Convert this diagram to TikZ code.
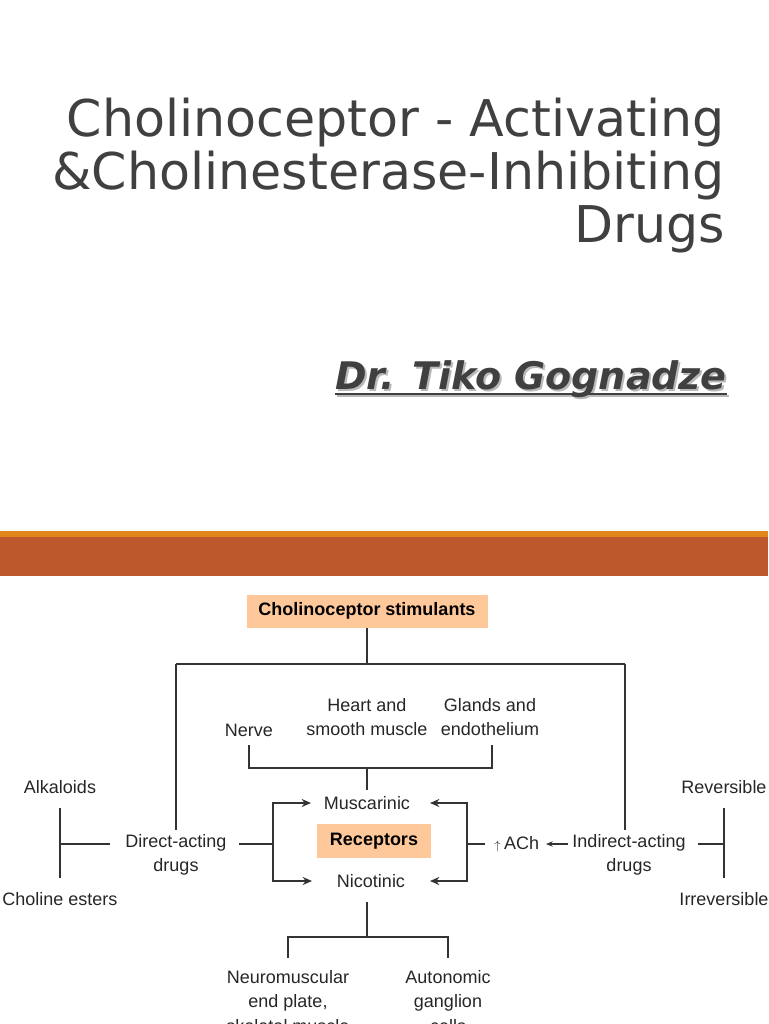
\documentclass[tikz,border=0pt]{standalone}
\usepackage{fontspec}
\setmainfont{DejaVu Sans}
\newfontfamily\arialf{Liberation Sans}
\usetikzlibrary{arrows.meta}
\definecolor{titlegray}{HTML}{404040}
\definecolor{bandline}{HTML}{E0861A}
\definecolor{band}{HTML}{BD582C}
\definecolor{peach}{HTML}{FFC89A}
\tikzset{
 lbl/.style={font=\arialf\fontsize{13.5}{18.5}\selectfont, align=center, inner sep=0pt, text=black!85},
 ln/.style={draw=black!80, line width=1.1pt},
 arr/.style={ln, -{Stealth[length=7pt,width=6pt]}},
 pbox/.style={fill=peach, font=\arialf\bfseries\fontsize{13.5}{16}\selectfont, inner sep=0pt},
 authf/.style={anchor=base east, font=\bfseries\itshape\fontsize{28.5}{32}\selectfont, inner sep=0pt}
}
\begin{document}
\begin{tikzpicture}[x=0.75pt,y=-0.75pt]
\useasboundingbox (0,0) rectangle (768,1024);
\clip (0,0) rectangle (768,1024);
% title
\node[anchor=north east, align=right, text=titlegray, font=\fontsize{38}{39.5}\selectfont, inner sep=0pt] (title) at (725,98)
 {Cholinoceptor - Activating\\ \&Cholinesterase-Inhibiting\\ Drugs};
\node[authf, text=gray!55] (authsh) at (729,391) {Dr. Tiko Gognadze};
\draw[gray!55, line width=1.6pt] ([yshift=-4pt]authsh.base west) -- ([yshift=-4pt]authsh.base east);
\node[authf, text=titlegray] (auth) at (727,389) {Dr. Tiko Gognadze};
\draw[titlegray, line width=1.6pt] ([yshift=-4pt]auth.base west) -- ([yshift=-4pt]auth.base east);
% band
\fill[bandline] (0,531) rectangle (768,537);
\fill[band] (0,537) rectangle (768,576);
% diagram
\node[pbox, minimum width=241*0.75pt, minimum height=33*0.75pt] (stim) at (367,611) {Cholinoceptor stimulants};
\coordinate (j1) at (367,664);
\coordinate (jl) at (176,664);
\coordinate (jr) at (625,664);
\node[lbl] (direct) at (176,855) {Direct-acting\\drugs};
\node[lbl] (indirect) at (629,855) {Indirect-acting\\drugs};
\draw[ln] (stim.south) -- (j1);
\draw[ln] (jl) -- (jr);
\draw[ln] (jl) -- (176,830);
\draw[ln] (jr) -- (625,830);
\node[lbl] (nerve) at (249,730) {Nerve};
\node[lbl] (heart) at (367,717) {Heart and\\smooth muscle};
\node[lbl] (glands) at (490,717) {Glands and\\endothelium};
\coordinate (b1) at (249,745); \coordinate (b2) at (492,745);
\draw[ln] (b1) -- (249,768) -- (492,768) -- (b2);
\node[lbl] (musc) at (367,803) {Muscarinic};
\node[pbox, minimum width=114*0.75pt, minimum height=34*0.75pt] (rec) at (374,841) {Receptors};
\node[lbl] (nic) at (371,881) {Nicotinic};
\draw[ln] (367,768) -- (367,790);
% left arrows
\coordinate (lj) at (273,844);
\coordinate (de) at (239,844);
\coordinate (ml) at (311,803); \coordinate (nl) at (312,881);
\coordinate (mr) at (430,803); \coordinate (nr) at (430,881);
\draw[ln] (de) -- (lj);
\draw[arr] (lj) -- (lj |- ml) -- (ml);
\draw[arr] (lj) -- (lj |- nl) -- (nl);
% right arrows
\coordinate (rj) at (467,844);
\node[lbl] (ach) at (515,844) {\makebox[10pt]{\fontsize{9}{9}\selectfont$\uparrow$}ACh};
\draw[arr] (rj) -- (rj |- mr) -- (mr);
\draw[arr] (rj) -- (rj |- nr) -- (nr);
\draw[ln] (485,844) -- (rj);
\coordinate (ie) at (568,844);
\draw[ln, -{Stealth[length=5pt,width=4pt]}] (ie) -- (546,844);
% left side
\node[lbl] (alk) at (60,787) {Alkaloids};
\node[lbl] (chol) at (60,899) {Choline esters};
\draw[ln] (60,808) -- (60,878);
\draw[ln] (60,844) -- (110,844);
% right side
\node[lbl] (rev) at (724,787) {Reversible};
\node[lbl] (irr) at (724,899) {Irreversible};
\draw[ln] (724,808) -- (724,878);
\draw[ln] (698,844) -- (724,844);
% bottom
\draw[ln] (367,902) -- (367,937);
\draw[ln] (288,958) -- (288,937) -- (448,937) -- (448,958);
\node[lbl, anchor=north] (nm) at (288,970) {Neuromuscular\\end plate,\\skeletal muscle};
\node[lbl, anchor=north] (ag) at (448,970) {Autonomic\\ganglion\\cells};
\end{tikzpicture}
\end{document}
